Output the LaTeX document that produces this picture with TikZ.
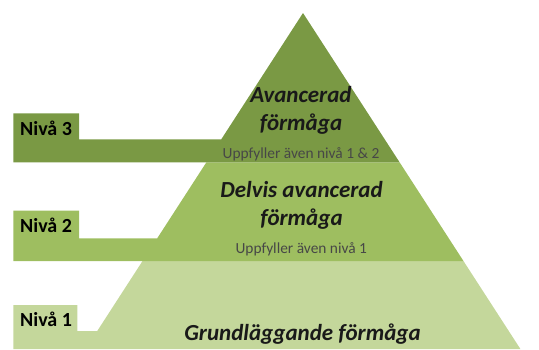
\documentclass[tikz,border=0pt]{standalone}
\usepackage{fontspec}
\setmainfont{Carlito}
\usetikzlibrary{intersections}

\begin{document}
\begin{tikzpicture}[x=1pt,y=-1pt,
    niva/.style={font=\fontsize{20}{24}\selectfont\bfseries, anchor=base west, inner sep=0pt},
    title/.style={font=\fontsize{23}{27.5}\selectfont\bfseries\itshape, align=center, anchor=base, inner sep=0pt, text=black!90},
    note/.style={font=\fontsize{15.4}{18}\selectfont, anchor=base, inner sep=0pt, text=black!72}]
\definecolor{lvl_dark}{RGB}{122,153,68}
\definecolor{lvl_mid}{RGB}{158,190,96}
\definecolor{lvl_light}{RGB}{196,215,155}

\useasboundingbox (0,0) rectangle (539,349);

\coordinate (T) at (303,13);
\coordinate (L) at (85.6,349);
\coordinate (R) at (520.4,349);
\path[name path=TL] (T) -- (L);
\path[name path=TR] (T) -- (R);

% notches and band borders on the two slopes
\foreach \y/\n in {139.3/3,162.3/32,238.3/2,261/21,331/1} {
    \path[name path=horiz] (0,\y) -- (539,\y);
    \path[name intersections={of=TL and horiz,by=l\n},
          name intersections={of=TR and horiz,by=r\n}];
}

\fill[lvl_light] (13.3,305) -| (77.3,331) -- (l1) -- (l21) -- (r21) -- (R) -- (13.3,349) -- cycle;
\fill[lvl_mid] (13.3,210.7) -| (79,238.3) -- (l2) -- (l32) -- (r32) -- (r21) -- (13.3,261) -- cycle;
\fill[lvl_dark] (13.3,113.3) -| (79,139.3) -- (l3) -- (T) -- (r32) -- (13.3,162.3) -- cycle;

% base anchor of a two-line node sits on its last line
\node[title] (top) at (301,130) {Avancerad\\förmåga};
\node[note] (topnote) at (301,158.3) {Uppfyller även nivå 1 \& 2};
\node[title] (mid) at (301.5,225.3) {Delvis avancerad\\förmåga};
\node[note] (midnote) at (301.3,253.3) {Uppfyller även nivå 1};
\node[title] (bottom) at (302.5,340) {Grundläggande förmåga};

\foreach \y/\i in {135/3,232.3/2,326.7/1}
    \node[niva] (niva\i) at (20,\y) {Nivå \i};
\end{tikzpicture}
\end{document}
